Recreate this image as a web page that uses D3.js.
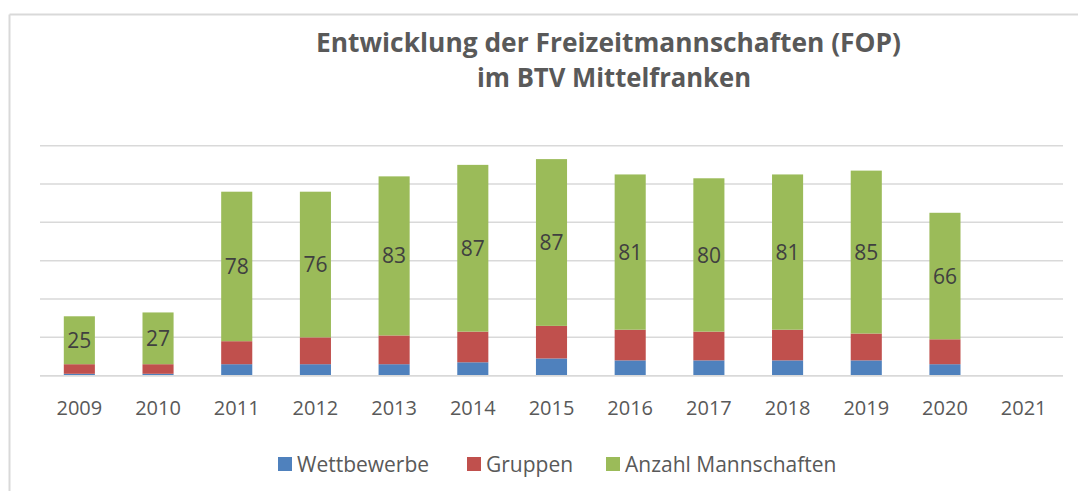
<!DOCTYPE html>
<html>
<head>
<meta charset="utf-8">
<script src="https://cdn.jsdelivr.net/npm/d3@7"></script>
<style>
  html, body { margin: 0; padding: 0; background: #ffffff; }
  svg { display: block; }
  text { font-family: "Open Sans", "Noto Sans", sans-serif; }
</style>
</head>
<body>
<svg id="chart" width="1078" height="491"></svg>
<script>
// ---- data ----
const years = ["2009","2010","2011","2012","2013","2014","2015","2016","2017","2018","2019","2020","2021"];
const wettbewerbe = [1, 1, 6, 6, 6, 7, 9, 8, 8, 8, 8, 6, 0];
const gruppen     = [5, 5, 12, 14, 15, 16, 17, 16, 15, 16, 14, 13, 0];
const mannschaften = [25, 27, 78, 76, 83, 87, 87, 81, 80, 81, 85, 66, 0];
const seriesNames = ["Wettbewerbe", "Gruppen", "Anzahl Mannschaften"];
const yTicks = [0, 20, 40, 60, 80, 100, 120];
const titleLines = ["Entwicklung der Freizeitmannschaften (FOP)", "im BTV Mittelfranken"];

const colors = ["#4f81bd", "#c0504d", "#9bbb59"];

const svg = d3.select("#chart");

// outer frame (top and left edges visible)
svg.append("line").attr("x1", 9.5).attr("x2", 1078).attr("y1", 14.5).attr("y2", 14.5)
  .attr("stroke", "#d9d9d9").attr("stroke-width", 2);
svg.append("line").attr("x1", 9.5).attr("x2", 9.5).attr("y1", 14.5).attr("y2", 491)
  .attr("stroke", "#d9d9d9").attr("stroke-width", 2);

// title
svg.append("text").text(titleLines[0])
  .attr("x", 316).attr("y", 52)
  .attr("textLength", 585).attr("lengthAdjust", "spacingAndGlyphs")
  .attr("font-size", 27).attr("font-weight", "bold").attr("fill", "#595959");
svg.append("text").text(titleLines[1])
  .attr("x", 477).attr("y", 87)
  .attr("textLength", 274).attr("lengthAdjust", "spacingAndGlyphs")
  .attr("font-size", 27).attr("font-weight", "bold").attr("fill", "#595959");

// scales
const x = d3.scaleBand().domain(years).range([40, 1063]).padding(0);
const y = d3.scaleLinear().domain([0, 120]).range([375.7, 145.7]);
const barW = x.step() * 0.395;

// gridlines
svg.append("g").selectAll("line").data(yTicks).join("line")
  .attr("x1", 40).attr("x2", 1063)
  .attr("y1", d => y(d)).attr("y2", d => y(d))
  .attr("stroke", "#d9d9d9").attr("stroke-width", 1.5);

// stacked data
const table = years.map((yr, i) => ({
  year: yr,
  [seriesNames[0]]: wettbewerbe[i],
  [seriesNames[1]]: gruppen[i],
  [seriesNames[2]]: mannschaften[i]
}));
const stacked = d3.stack().keys(seriesNames)(table);

const layers = svg.append("g").selectAll("g").data(stacked).join("g")
  .attr("fill", (d, i) => colors[i]);
layers.selectAll("rect").data(d => d.filter(s => s[1] - s[0] > 0)).join("rect")
  .attr("x", d => x(d.data.year) + x.bandwidth() / 2 - barW / 2)
  .attr("width", barW)
  .attr("y", d => y(d[1]))
  .attr("height", d => y(d[0]) - y(d[1]));

// baseline over bars' bottom
svg.append("line").attr("x1", 40).attr("x2", 1063)
  .attr("y1", y(0)).attr("y2", y(0))
  .attr("stroke", "#d9d9d9").attr("stroke-width", 1.5);

// data labels on green segment
const green = stacked[2];
svg.append("g").selectAll("text").data(green.filter(s => s[1] - s[0] > 0)).join("text")
  .attr("x", d => x(d.data.year) + x.bandwidth() / 2)
  .attr("y", d => (y(d[0]) + y(d[1])) / 2)
  .attr("dy", "0.36em")
  .attr("text-anchor", "middle")
  .attr("font-size", 21)
  .attr("fill", "#404040")
  .text(d => d.data[seriesNames[2]]);

// x axis labels
const xAxis = d3.axisBottom(x).tickSize(0).tickPadding(0);
const gx = svg.append("g").attr("transform", `translate(0, ${y(0)})`).call(xAxis);
gx.select(".domain").remove();
gx.selectAll("text")
  .attr("y", 32).attr("dy", "0.36em")
  .attr("font-size", 20).attr("fill", "#595959")
  .attr("font-family", "'Open Sans', 'Noto Sans', sans-serif");

// legend
const legendX = [278, 467, 606];
const lg = svg.append("g").selectAll("g").data(seriesNames).join("g")
  .attr("transform", (d, i) => `translate(${legendX[i]}, 457)`);
lg.append("rect").attr("width", 14).attr("height", 14).attr("fill", (d, i) => colors[i]);
lg.append("text").attr("x", 19).attr("y", 7).attr("dy", "0.36em")
  .attr("font-size", 21).attr("fill", "#595959").text(d => d);
</script>
</body>
</html>
